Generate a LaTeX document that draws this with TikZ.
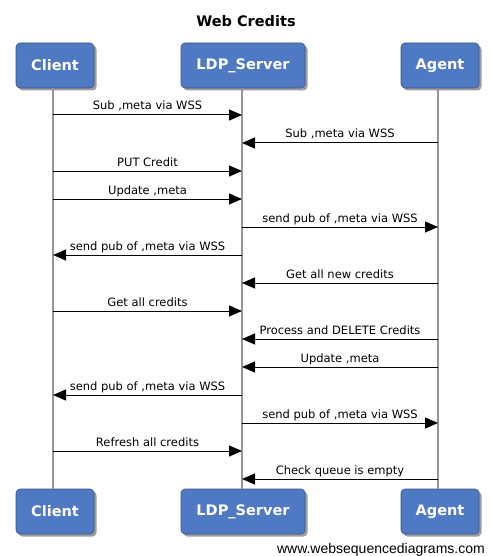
\documentclass[tikz,border=0pt]{standalone}
\usepackage{fontspec}
\setmainfont{DejaVu Sans}
\newfontfamily\footfont{Liberation Sans}
\usetikzlibrary{arrows.meta,shadows}
\definecolor{boxblue}{RGB}{79,121,194}
\definecolor{lifegray}{RGB}{150,150,150}
\tikzset{
  actor/.style={draw=boxblue!70!black, line width=0.6pt, fill=boxblue, rounded corners=4pt,
    minimum height=45pt, text=white, font=\fontsize{14.5}{16}\selectfont\bfseries,
    drop shadow={shadow xshift=2.5pt, shadow yshift=-2.5pt, opacity=0.55, fill=black!70}},
  lifeline/.style={draw=lifegray, line width=1.4pt},
  msg/.style={draw=black, line width=1pt, -{Triangle[length=13pt,width=11pt]}},
  lbl/.style={anchor=base, inner sep=0pt, font=\fontsize{11.5}{13}\selectfont},
}
\begin{document}
\begin{tikzpicture}[x=1pt,y=-1pt]
\useasboundingbox (0,0) rectangle (490,556);
\node[font=\fontsize{14.5}{16}\selectfont\bfseries, anchor=base] (title) at (246,27) {Web Credits};
% top actors
\node[actor, minimum width=78pt] (cT) at (55,65.5) {Client};
\node[actor, minimum width=124pt] (sT) at (243,65.5) {LDP\_Server};
\node[actor, minimum width=78pt] (aT) at (440,65.5) {Agent};
% bottom actors
\node[actor, minimum width=78pt] (cB) at (55,511.5) {Client};
\node[actor, minimum width=124pt] (sB) at (243,511.5) {LDP\_Server};
\node[actor, minimum width=78pt] (aB) at (440,511.5) {Agent};
% lifelines
\draw[lifeline] (cT.south -| 53,0) -- (cB.north -| 53,0);
\draw[lifeline] (sT.south -| 242,0) -- (sB.north -| 242,0);
\draw[lifeline] (aT.south -| 438,0) -- (aB.north -| 438,0);
% message endpoints
\foreach \i/\y in {1/115,2/143,3/171,4/199,5/227,6/255,7/283,8/311,9/339,10/367,11/395,12/423,13/451,14/479}{
  \coordinate (c\i) at (53,\y);
  \coordinate (s\i) at (242,\y);
  \coordinate (a\i) at (438,\y);
}
\draw[msg] (c1) -- (s1) node[lbl, midway, yshift=5pt] (l1) {Sub ,meta via WSS};
\draw[msg] (a2) -- (s2) node[lbl, midway, yshift=5pt] (l2) {Sub ,meta via WSS};
\draw[msg] (c3) -- (s3) node[lbl, midway, yshift=5pt] (l3) {PUT Credit};
\draw[msg] (c4) -- (s4) node[lbl, midway, yshift=5pt] (l4) {Update ,meta};
\draw[msg] (s5) -- (a5) node[lbl, midway, yshift=5pt] (l5) {send pub of ,meta via WSS};
\draw[msg] (s6) -- (c6) node[lbl, midway, yshift=5pt] (l6) {send pub of ,meta via WSS};
\draw[msg] (a7) -- (s7) node[lbl, midway, yshift=5pt] (l7) {Get all new credits};
\draw[msg] (c8) -- (s8) node[lbl, midway, yshift=5pt] (l8) {Get all credits};
\draw[msg] (a9) -- (s9) node[lbl, midway, yshift=5pt] (l9) {Process and DELETE Credits};
\draw[msg] (a10) -- (s10) node[lbl, midway, yshift=5pt] (l10) {Update ,meta};
\draw[msg] (s11) -- (c11) node[lbl, midway, yshift=5pt] (l11) {send pub of ,meta via WSS};
\draw[msg] (s12) -- (a12) node[lbl, midway, yshift=5pt] (l12) {send pub of ,meta via WSS};
\draw[msg] (c13) -- (s13) node[lbl, midway, yshift=5pt] (l13) {Refresh all credits};
\draw[msg] (a14) -- (s14) node[lbl, midway, yshift=5pt] (l14) {Check queue is empty};
% footer
\node[anchor=base east, inner sep=0pt, font=\footfont\fontsize{14}{16}\selectfont] (foot) at (485,553) {www.websequencediagrams.com};
\end{tikzpicture}
\end{document}
